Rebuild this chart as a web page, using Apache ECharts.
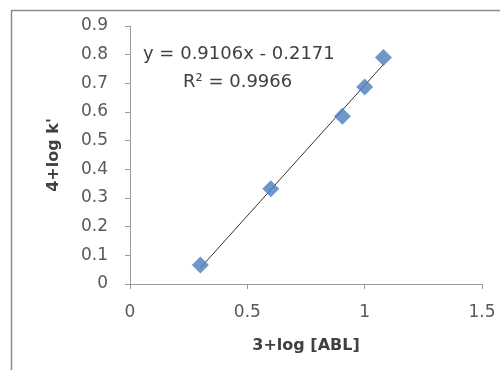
<!DOCTYPE html>
<html>
<head>
<meta charset="utf-8">
<script src="https://cdn.jsdelivr.net/npm/echarts@6/dist/echarts.min.js"></script>
<style>
  html, body { margin: 0; padding: 0; background: #fff; }
  #chart { width: 500px; height: 370px; }
</style>
</head>
<body>
<div id="chart"></div>
<script>
// 측정 데이터
const xValues = [0.3, 0.6, 0.905, 1.0, 1.08];
const yValues = [0.066, 0.332, 0.585, 0.687, 0.79];

// 추세선 끝점
const trendX = [0.3, 1.08];
const trendY = [0.056, 0.766];

const equationText = 'y = 0.9106x - 0.2171';
const r2Text = 'R² = 0.9966';

const chart = echarts.init(document.getElementById('chart'));
const font = '"DejaVu Sans", sans-serif';

chart.setOption({
    animation: false,
    grid: { left: 130, right: 18, top: 26, bottom: 86 },
    xAxis: {
        type: 'value',
        min: 0,
        max: 1.5,
        interval: 0.5,
        name: '3+log [ABL]',
        nameLocation: 'middle',
        nameGap: 54,
        nameTextStyle: { fontFamily: font, fontSize: 16, fontWeight: 'bold', color: '#404040' },
        axisLine: { lineStyle: { color: '#9a9a9a' } },
        axisTick: { show: true, length: 5, lineStyle: { color: '#9a9a9a' } },
        axisLabel: { fontFamily: font, fontSize: 17, color: '#595959', margin: 20 },
        splitLine: { show: false }
    },
    yAxis: {
        type: 'value',
        min: 0,
        max: 0.9,
        interval: 0.1,
        name: "4+log k'",
        nameLocation: 'middle',
        nameGap: 68,
        nameTextStyle: { fontFamily: font, fontSize: 16, fontWeight: 'bold', color: '#404040' },
        axisLine: { show: true, lineStyle: { color: '#9a9a9a' } },
        axisTick: { show: true, length: 5, lineStyle: { color: '#9a9a9a' } },
        axisLabel: { fontFamily: font, fontSize: 17, color: '#595959', margin: 22 },
        splitLine: { show: false }
    },
    series: [
        {
            name: 'trend',
            type: 'line',
            data: trendX.map((x, i) => [x, trendY[i]]),
            symbol: 'none',
            lineStyle: { color: '#333', width: 1 },
            z: 1
        },
        {
            name: 'data',
            type: 'scatter',
            data: xValues.map((x, i) => [x, yValues[i]]),
            symbol: 'diamond',
            symbolSize: 17,
            itemStyle: { color: '#4a7ebb' },
            z: 2
        }
    ],
    graphic: [
        {
            type: 'rect',
            shape: { x: 11.5, y: 10.5, width: 520, height: 400 },
            style: { fill: 'none', stroke: '#8c8c8c', lineWidth: 1.5 },
            silent: true
        },
        {
            type: 'text',
            left: 143,
            top: 45,
            style: { text: equationText, font: '18px ' + font, fill: '#404040' }
        },
        {
            type: 'text',
            left: 183,
            top: 73,
            style: { text: r2Text, font: '18px ' + font, fill: '#404040' }
        }
    ]
});
</script>
</body>
</html>
